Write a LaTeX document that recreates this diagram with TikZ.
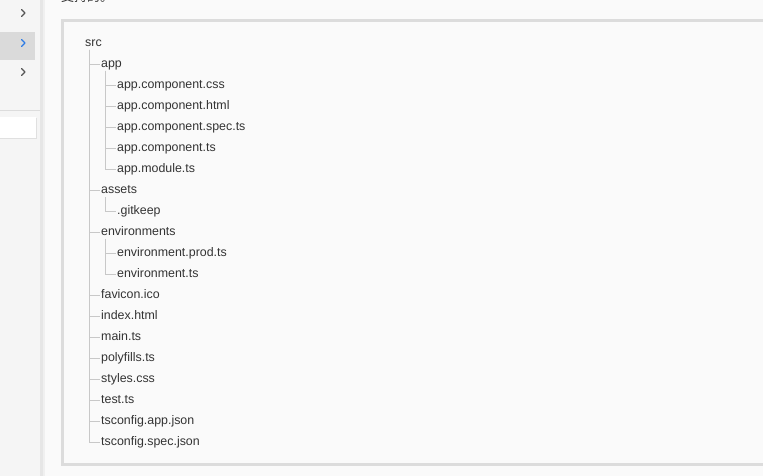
\documentclass[tikz,border=0pt]{standalone}
\usepackage{fontspec}
\setmainfont{Liberation Sans}
\newfontfamily\cjk{Noto Sans CJK SC}
\definecolor{pagebg}{HTML}{FAFAFA}
\definecolor{sidebg}{HTML}{F5F5F5}
\definecolor{sepgray}{HTML}{E6E6E6}
\definecolor{boxborder}{HTML}{DCDCDC}
\definecolor{treegray}{HTML}{C8C8C8}
\definecolor{txt}{HTML}{333333}
\definecolor{hilite}{HTML}{DADADA}
\definecolor{chevdark}{HTML}{555555}
\definecolor{chevblue}{HTML}{2D7BE5}
\tikzset{
  item/.style={anchor=west, inner sep=0pt, text height=9pt, text depth=3pt,
    font=\fontsize{12.4}{14}\selectfont, text=txt, yshift=-1.8pt},
  tl/.style={draw=treegray, line width=1pt},
  chev/.style={line width=1.3pt, line cap=round, line join=round}
}
\begin{document}
\begin{tikzpicture}[x=1pt,y=-1pt]
\useasboundingbox (0,0) rectangle (763,476);
% backgrounds
\fill[pagebg] (0,0) rectangle (763,476);
\fill[sidebg] (0,0) rectangle (40,476);
\fill[sepgray] (40,0) rectangle (43,476);
\fill[sepgray!50!pagebg] (43,0) rectangle (45,476);
% sidebar
\fill[hilite] (0,32) rectangle (35,60);
\draw[chev, chevdark] (21.5,9.5) -- (25,13) -- (21.5,16.5);
\draw[chev, chevblue] (21.5,39.5) -- (25,43) -- (21.5,46.5);
\draw[chev, chevdark] (21.5,68.5) -- (25,72) -- (21.5,75.5);
\draw[boxborder, line width=1pt] (0,111) -- (40,111);
\fill[black!12] (0,118) rectangle (37,139.5);
\fill[white] (0,117) rectangle (36,138);
% cut-off heading
\node[anchor=base west, inner sep=0pt, font=\cjk\fontsize{13}{15}\selectfont, text=txt] (head) at (61,1.5) {支持的。};
% main box
\draw[boxborder, line width=3pt, fill=pagebg] (62.5,20.5) rectangle (770,464.5);
% tree nodes
\node[item] (n0) at (85,42) {src};
\node[item] (n1) at (101,63) {app};
\node[item] (n2) at (117,84) {app.component.css};
\node[item] (n3) at (117,105) {app.component.html};
\node[item] (n4) at (117,126) {app.component.spec.ts};
\node[item] (n5) at (117,147) {app.component.ts};
\node[item] (n6) at (117,168) {app.module.ts};
\node[item] (n7) at (101,189) {assets};
\node[item] (n8) at (117,210) {.gitkeep};
\node[item] (n9) at (101,231) {environments};
\node[item] (n10) at (117,252) {environment.prod.ts};
\node[item] (n11) at (117,273) {environment.ts};
\node[item] (n12) at (101,294) {favicon.ico};
\node[item] (n13) at (101,315) {index.html};
\node[item] (n14) at (101,336) {main.ts};
\node[item] (n15) at (101,357) {polyfills.ts};
\node[item] (n16) at (101,378) {styles.css};
\node[item] (n17) at (101,399) {test.ts};
\node[item] (n18) at (101,420) {tsconfig.app.json};
\node[item] (n19) at (101,441) {tsconfig.spec.json};
% tree connectors
\foreach \c in {n1,n7,n9,n12,n13,n14,n15,n16,n17,n18,n19}
  \draw[tl] (n0.west) ++(4.5,6) |- ([xshift=-1pt]\c.west);
\foreach \c in {n2,n3,n4,n5,n6}
  \draw[tl] (n1.west) ++(4.5,6) |- ([xshift=-1pt]\c.west);
\draw[tl] (n7.west) ++(4.5,6) |- ([xshift=-1pt]n8.west);
\foreach \c in {n10,n11}
  \draw[tl] (n9.west) ++(4.5,6) |- ([xshift=-1pt]\c.west);
\end{tikzpicture}
\end{document}
